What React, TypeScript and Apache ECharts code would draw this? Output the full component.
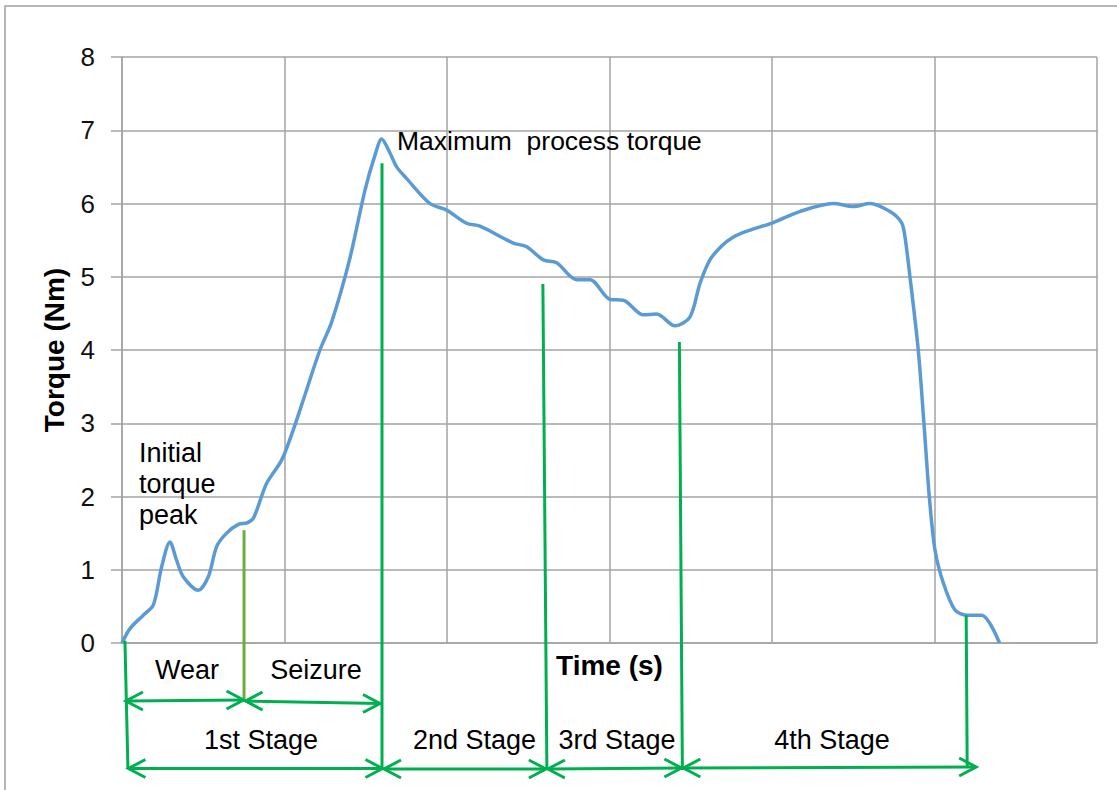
import React, { useEffect, useRef } from "react";
import * as echarts from "echarts";

// Time axis in grid units (the original axis carries no tick labels)
const timeUnits = [
  0, 0.05, 0.131, 0.193, 0.244, 0.295, 0.336, 0.377, 0.469, 0.531, 0.583, 0.644, 0.716, 0.77, 0.81,
  0.89, 0.983, 1.054, 1.116, 1.218, 1.29, 1.4, 1.495, 1.557, 1.598, 1.649, 1.69, 1.752, 1.895, 1.998,
  2.12, 2.203, 2.408, 2.49, 2.593, 2.675, 2.798, 2.88, 3.003, 3.085, 3.208, 3.29, 3.403, 3.495, 3.557,
  3.618, 3.69, 3.76, 3.842, 4.008, 4.17, 4.377, 4.5, 4.603, 4.726, 4.797, 4.818, 4.849, 4.9, 4.935,
  4.968, 5.003, 5.055, 5.126, 5.198, 5.29, 5.4,
];
const torqueNm = [
  0, 0.2, 0.38, 0.52, 1.04, 1.38, 1.13, 0.905, 0.72, 0.905, 1.32, 1.5, 1.62, 1.64, 1.71,
  2.18, 2.5, 2.91, 3.32, 4.0, 4.38, 5.23, 6.18, 6.66, 6.88, 6.69, 6.5, 6.34, 6.0, 5.91,
  5.73, 5.69, 5.46, 5.41, 5.23, 5.19, 4.96, 4.96, 4.69, 4.68, 4.48, 4.49, 4.33, 4.45, 4.91,
  5.23, 5.42, 5.54, 5.62, 5.74, 5.89, 6.0, 5.96, 6.0, 5.89, 5.74, 5.55, 5.0, 4.0, 3.0,
  2.0, 1.27, 0.815, 0.45, 0.38, 0.38, 0,
];
const yTickValues = [0, 1, 2, 3, 4, 5, 6, 7, 8];

// Stage boundary markers (data x of the marker, data y where it stops under the curve)
const markerX = [0.018, 0.751, 1.6, 2.59, 3.43, 5.195];
const markerTopY = [0.03, 1.54, 6.55, 4.9, 4.11, 0.38];
const stageLabels = ["1st Stage", "2nd Stage", "3rd Stage", "4th Stage"];
const phaseLabels = ["Wear", "Seizure"];
const peakLabel = ["Initial", "torque", "peak"];
const maxLabel = "Maximum  process torque";

const FONT = "'Liberation Sans', Arial, sans-serif";
const GRID = "#A3A3A3";
const GREEN = "#00B050";
const OLIVE = "#6AAE3E";

export default function App() {
  const ref = useRef<HTMLDivElement>(null);
  useEffect(() => {
    if (!ref.current) return;
    const chart = echarts.init(ref.current, null, { renderer: "svg" });
    const data = timeUnits.map((t, i) => [t, torqueNm[i]]);
    chart.setOption({
      animation: false,
      grid: { left: 122, top: 57, right: 20, bottom: 147, containLabel: false },
      xAxis: {
        type: "value",
        min: 0,
        max: 6,
        interval: 1,
        name: "Time (s)",
        nameLocation: "middle",
        nameGap: 8,
        nameTextStyle: { fontFamily: FONT, fontSize: 28, fontWeight: "bold", color: "#000" },
        axisLabel: { show: false },
        axisTick: { show: false },
        axisLine: { show: true, lineStyle: { color: GRID, width: 1.5 } },
        splitLine: { show: true, lineStyle: { color: GRID, width: 1.5 } },
      },
      yAxis: {
        type: "value",
        min: yTickValues[0],
        max: yTickValues[yTickValues.length - 1],
        interval: 1,
        name: "Torque (Nm)",
        nameLocation: "middle",
        nameRotate: 90,
        nameGap: 54,
        nameTextStyle: { fontFamily: FONT, fontSize: 28, fontWeight: "bold", color: "#000" },
        axisLabel: { fontFamily: FONT, fontSize: 26, color: "#111", margin: 27 },
        axisTick: { show: true, length: 11, lineStyle: { color: GRID, width: 1.5 } },
        axisLine: { show: true, lineStyle: { color: GRID, width: 1.5 } },
        splitLine: { show: true, lineStyle: { color: GRID, width: 1.5 } },
      },
      series: [
        {
          type: "line",
          data,
          smooth: 0.3,
          showSymbol: false,
          lineStyle: { color: "#5B9BD5", width: 3.5 },
          z: 3,
        },
      ],
    });

    const px = (x: number, y: number) => chart.convertToPixel({ gridIndex: 0 }, [x, y]) as number[];
    const markerBottom = [768, 700, 770, 770, 770, 767];
    const markerShift = [3, 0, 0, 4, 3, 1];
    const tops = markerX.map((x, i) => px(x, markerTopY[i]));
    const bots = tops.map((p, i) => [p[0] + markerShift[i], markerBottom[i]]);

    const els: any[] = [];
    els.push({
      type: "rect",
      shape: { x: 5, y: 6, width: 1400, height: 1000 },
      style: { fill: "none", stroke: "#A0A0A0", lineWidth: 1.5 },
      silent: true,
      z: 0,
    });
    tops.forEach((t, i) => {
      els.push({
        type: "line",
        shape: { x1: t[0], y1: t[1], x2: bots[i][0], y2: bots[i][1] },
        style: { stroke: i === 1 ? OLIVE : GREEN, lineWidth: 3 },
        z: 10,
      });
    });
    const arrow = (x1: number, y1: number, x2: number, y2: number) => {
      const st = { stroke: GREEN, lineWidth: 3, fill: "none" };
      els.push({ type: "line", shape: { x1, y1, x2, y2 }, style: st, z: 10 });
      els.push({ type: "polyline", shape: { points: [[x1 + 17, y1 - 9], [x1, y1], [x1 + 17, y1 + 9]] }, style: st, z: 10 });
      els.push({ type: "polyline", shape: { points: [[x2 - 17, y2 - 9], [x2, y2], [x2 - 17, y2 + 9]] }, style: st, z: 10 });
    };
    // Wear / Seizure row
    arrow(tops[0][0] + 1, 701, tops[1][0] - 0.5, 700);
    arrow(tops[1][0] + 1.5, 701, tops[2][0] - 2, 703.5);
    // Stage row
    arrow(bots[0][0] + 0.5, 768.5, tops[2][0] + 0.5, 768.5);
    arrow(tops[2][0] + 2, 769, bots[3][0] - 1, 769);
    arrow(bots[3][0] + 1, 769, bots[4][0] - 1, 768);
    arrow(bots[4][0] + 1, 768, bots[5][0] + 9, 767);

    const txt = (text: string, x: number, y: number, align = "center", size = 27) => {
      els.push({
        type: "text",
        x,
        y,
        style: { text, fill: "#000", font: `${size}px ${FONT}`, textAlign: align, textVerticalAlign: "middle" },
        z: 12,
      });
    };
    txt(peakLabel[0], 139, 453, "left");
    txt(peakLabel[1], 139, 484, "left");
    txt(peakLabel[2], 139, 515, "left");
    txt(maxLabel, 397, 141, "left", 26.5);
    txt(phaseLabels[0], 187, 670);
    txt(phaseLabels[1], 316, 670);
    const stageCx = [261, 474.5, 617, 832];
    stageLabels.forEach((s, i) => txt(s, stageCx[i], 740));

    chart.setOption({ graphic: els });
    return () => chart.dispose();
  }, []);
  return (
    <div
      ref={ref}
      style={{ position: "absolute", left: 0, top: 0, width: 1117, height: 790, background: "#fff" }}
    />
  );
}
